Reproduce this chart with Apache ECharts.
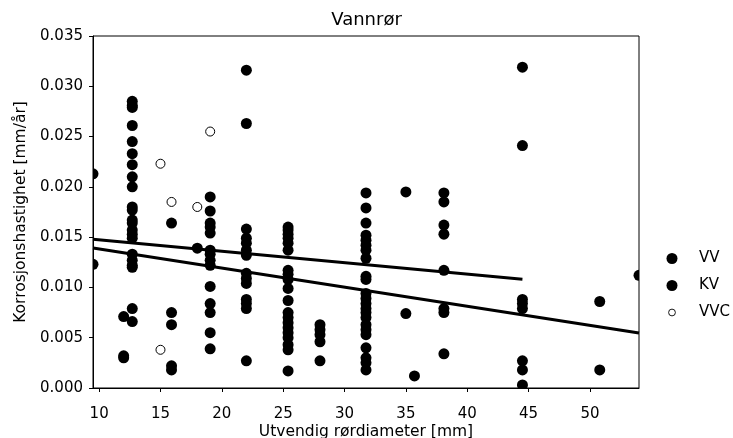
<!DOCTYPE html>
<html>
<head>
<meta charset="utf-8">
<script src="https://cdn.jsdelivr.net/npm/echarts@6/dist/echarts.min.js"></script>
<style>
html,body{margin:0;padding:0;background:#fff;}
#chart{width:733px;height:438px;}
</style>
</head>
<body>
<div id="chart"></div>
<script>
// ---- data ----
const titleText = 'Vannrør';
const xName = 'Utvendig rørdiameter [mm]';
const yName = 'Korrosjonshastighet [mm/år]';
const seriesNames = ['VV', 'KV', 'VVC'];
const xTicks = [10, 15, 20, 25, 30, 35, 40, 45, 50];
const yTicks = [0, 0.005, 0.010, 0.015, 0.020, 0.025, 0.030, 0.035];
const xRange = [9.5, 54];
const yRange = [0, 0.035];

const vvPoints = [
  [9.5, 0.0213],
  [12, 0.0071],
  [12.7, 0.0285], [12.7, 0.0279], [12.7, 0.0245], [12.7, 0.0222], [12.7, 0.0200], [12.7, 0.0177],
  [12.7, 0.0164], [12.7, 0.0153], [12.7, 0.0133], [12.7, 0.0122], [12.7, 0.0079],
  [15.9, 0.0164], [15.9, 0.0063], [15.9, 0.0022],
  [18, 0.0139],
  [19.05, 0.0190], [19.05, 0.0164], [19.05, 0.0154], [19.05, 0.0133], [19.05, 0.0122], [19.05, 0.0084], [19.05, 0.0055],
  [22, 0.0316], [22, 0.0263], [22, 0.0158], [22, 0.0144], [22, 0.0132], [22, 0.0109], [22, 0.0088], [22, 0.0079],
  [25.4, 0.0160], [25.4, 0.0153], [25.4, 0.0144], [25.4, 0.0117], [25.4, 0.0108], [25.4, 0.0087], [25.4, 0.0070], [25.4, 0.0060], [25.4, 0.0050], [25.4, 0.0038],
  [28, 0.0063], [28, 0.0053],
  [31.75, 0.0194], [31.75, 0.0164], [31.75, 0.0147], [31.75, 0.0137], [31.75, 0.0111], [31.75, 0.0094], [31.75, 0.0084], [31.75, 0.0075], [31.75, 0.0063], [31.75, 0.0053], [31.75, 0.0030],
  [35, 0.0195],
  [38.1, 0.0194], [38.1, 0.0162], [38.1, 0.0117], [38.1, 0.0075],
  [44.5, 0.0319], [44.5, 0.0088], [44.5, 0.0079], [44.5, 0.0018]
];
const kvPoints = [
  [9.5, 0.0123],
  [12, 0.0030], [12, 0.0032],
  [12.7, 0.0281], [12.7, 0.0261], [12.7, 0.0233], [12.7, 0.0210], [12.7, 0.0180], [12.7, 0.0167],
  [12.7, 0.0157], [12.7, 0.0149], [12.7, 0.0127], [12.7, 0.0120], [12.7, 0.0066],
  [15.9, 0.0075], [15.9, 0.0018],
  [19.05, 0.0176], [19.05, 0.0160], [19.05, 0.0137], [19.05, 0.0127], [19.05, 0.0101], [19.05, 0.0075], [19.05, 0.0039],
  [22, 0.0149], [22, 0.0137], [22, 0.0114], [22, 0.0104], [22, 0.0084], [22, 0.0027],
  [25.4, 0.0157], [25.4, 0.0149], [25.4, 0.0137], [25.4, 0.0113], [25.4, 0.0099], [25.4, 0.0075], [25.4, 0.0065], [25.4, 0.0055], [25.4, 0.0043], [25.4, 0.0017],
  [28, 0.0058], [28, 0.0046], [28, 0.0027],
  [31.75, 0.0179], [31.75, 0.0152], [31.75, 0.0142], [31.75, 0.0129], [31.75, 0.0108], [31.75, 0.0089], [31.75, 0.0079], [31.75, 0.0070], [31.75, 0.0058], [31.75, 0.0040], [31.75, 0.0025], [31.75, 0.0018],
  [35, 0.0074], [35.7, 0.0012],
  [38.1, 0.0185], [38.1, 0.0153], [38.1, 0.0079], [38.1, 0.0034],
  [44.5, 0.0241], [44.5, 0.0084], [44.5, 0.0027], [44.5, 0.0003],
  [50.8, 0.0086], [50.8, 0.0018],
  [54, 0.0112]
];
const vvcPoints = [
  [15, 0.0223], [15, 0.0038], [15.9, 0.0185], [18, 0.0180], [19.05, 0.0255]
];
// fitted trend lines (end points)
const vvTrend = [[9.5, 0.01478], [44.5, 0.01082]];
const kvTrend = [[9.5, 0.01392], [54, 0.00546]];

// ---- chart ----
const FONT = 'DejaVu Sans';
const DOT_R = 5.5;
const openIcon = 'image://data:image/svg+xml;charset=utf-8,' + encodeURIComponent(
  '<svg xmlns="http://www.w3.org/2000/svg" width="11" height="11" viewBox="0 0 11 11">' +
  '<circle cx="5.5" cy="5.5" r="3.4" fill="#fff" stroke="#000" stroke-width="0.9"/></svg>');

function dotRender(params, api) {
  const p = api.coord([api.value(0), api.value(1)]);
  return {type: 'circle', shape: {cx: p[0], cy: p[1], r: DOT_R}, style: {fill: '#000'}};
}

const chart = echarts.init(document.getElementById('chart'), null, {renderer: 'canvas'});
const option = {
  animation: false,
  backgroundColor: '#fff',
  textStyle: {fontFamily: FONT, color: '#000'},
  title: {
    text: titleText, left: 'center', top: 6,
    textStyle: {fontFamily: FONT, fontSize: 18, fontWeight: 'normal', color: '#000'}
  },
  legend: {
    orient: 'vertical', left: 650, top: 251, padding: 0,
    itemWidth: 44, itemHeight: 11, itemGap: 12,
    textStyle: {fontFamily: FONT, fontSize: 15, color: '#000'},
    data: [
      {name: seriesNames[0], icon: 'circle', itemStyle: {color: '#000'}},
      {name: seriesNames[1], icon: 'circle', itemStyle: {color: '#000'}},
      {name: seriesNames[2], icon: openIcon}
    ]
  },
  grid: {
    left: 93, right: 94, top: 36, bottom: 50, outerBoundsMode: 'none', containLabel: false,
    show: true, borderColor: '#000', borderWidth: 1, backgroundColor: 'transparent'
  },
  xAxis: {
    type: 'value', min: xRange[0], max: xRange[1],
    name: xName, nameLocation: 'middle', nameGap: 36, nameMoveOverlap: false,
    nameTextStyle: {fontFamily: FONT, fontSize: 15.5, color: '#000'},
    axisLine: {show: true, lineStyle: {color: '#000', width: 1}},
    axisTick: {show: true, length: 4, lineStyle: {color: '#000'}, customValues: xTicks},
    axisLabel: {fontFamily: FONT, fontSize: 15, color: '#000', margin: 19, customValues: xTicks},
    splitLine: {show: false}
  },
  yAxis: {
    type: 'value', min: yRange[0], max: yRange[1], interval: 0.005,
    name: yName, nameLocation: 'middle', nameGap: 64, nameMoveOverlap: false,
    nameTextStyle: {fontFamily: FONT, fontSize: 15.5, color: '#000'},
    axisLine: {show: true, lineStyle: {color: '#000', width: 1}},
    axisTick: {show: true, length: 4, lineStyle: {color: '#000'}, customValues: yTicks},
    axisLabel: {fontFamily: FONT, fontSize: 15, color: '#000', margin: 10, customValues: yTicks,
      formatter: v => Number(v).toFixed(3)},
    splitLine: {show: false}
  },
  series: [
    {name: seriesNames[0], type: 'custom', data: vvPoints, renderItem: dotRender, clip: true,
      itemStyle: {color: '#000'}, encode: {x: 0, y: 1}, z: 2},
    {name: seriesNames[1], type: 'custom', data: kvPoints, renderItem: dotRender, clip: true,
      itemStyle: {color: '#000'}, encode: {x: 0, y: 1}, z: 2},
    {name: seriesNames[2], type: 'scatter', data: vvcPoints, symbol: 'circle', symbolSize: 9,
      itemStyle: {color: '#fff', borderColor: '#000', borderWidth: 1, opacity: 1}, z: 3},
    {name: 'vvTrend', type: 'line', data: vvTrend, symbol: 'none', silent: true,
      lineStyle: {color: '#000', width: 3}, z: 4},
    {name: 'kvTrend', type: 'line', data: kvTrend, symbol: 'none', silent: true,
      lineStyle: {color: '#000', width: 3}, z: 4}
  ]
};
chart.setOption(option);
</script>
</body>
</html>
